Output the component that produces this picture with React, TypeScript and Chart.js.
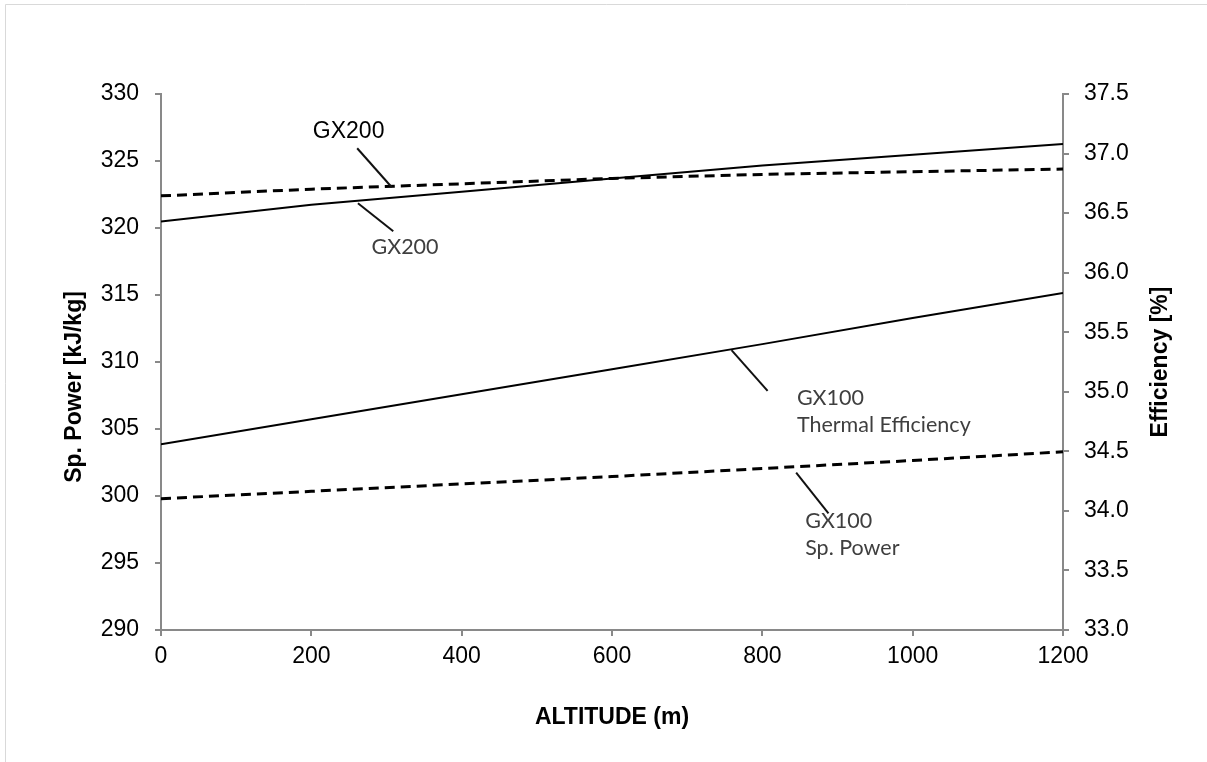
import React, { useEffect, useRef } from "react";
import { Chart, registerables } from "chart.js";

Chart.register(...registerables);

// ---- data ----
const altitudes = [0, 200, 400, 600, 800, 1000, 1200];
const gx200SpPower = [322.4, 322.9, 323.3, 323.7, 324.0, 324.2, 324.4];
const gx100SpPower = [299.8, 300.35, 300.9, 301.45, 302.05, 302.65, 303.3];
const gx200Efficiency = [36.43, 36.57, 36.68, 36.79, 36.9, 36.99, 37.08];
const gx100Efficiency = [34.56, 34.77, 34.98, 35.19, 35.4, 35.62, 35.83];

const xTitle = "ALTITUDE (m)";
const yLeftTitle = "Sp. Power [kJ/kg]";
const yRightTitle = "Efficiency [%]";

// annotations (data units: altitude, kJ/kg)
const noteLines = [["GX200"], ["GX200"], ["GX100", "Thermal Efficiency"], ["GX100", "Sp. Power"]];
const noteTextX = [202, 280, 846, 857];
const noteTextY = [327.2, 318.6, 307.3, 298.1];
const leaderFromX = [261, 262, 759, 845];
const leaderFromY = [325.95, 321.85, 310.88, 301.74];
const leaderToX = [307, 309, 807, 888];
const leaderToY = [323.04, 319.76, 307.85, 298.71];

const W = 1207;
const H = 762;
const AXIS_GRAY = "#898989";
const TICK_FONT = "'Liberation Sans', Arial, sans-serif";
const NOTE_FONT = "Lato, 'Open Sans', sans-serif";

const overlayPlugin = {
  id: "overlay",
  beforeDraw(chart: any) {
    const ctx = chart.ctx;
    ctx.save();
    ctx.fillStyle = "#ffffff";
    ctx.fillRect(0, 0, W, H);
    ctx.strokeStyle = "#d9d9d9";
    ctx.lineWidth = 1;
    ctx.beginPath();
    ctx.moveTo(5.5, H);
    ctx.lineTo(5.5, 4.5);
    ctx.lineTo(W, 4.5);
    ctx.stroke();
    ctx.restore();
  },
  afterDraw(chart: any) {
    const ctx = chart.ctx;
    const xs = chart.scales.x;
    const ys = chart.scales.y;
    const area = chart.chartArea;
    ctx.save();
    // leader lines
    ctx.strokeStyle = "#111111";
    ctx.lineWidth = 2;
    for (let i = 0; i < leaderFromX.length; i++) {
      ctx.beginPath();
      ctx.moveTo(xs.getPixelForValue(leaderFromX[i]), ys.getPixelForValue(leaderFromY[i]));
      ctx.lineTo(xs.getPixelForValue(leaderToX[i]), ys.getPixelForValue(leaderToY[i]));
      ctx.stroke();
    }
    // notes
    ctx.textAlign = "left";
    ctx.textBaseline = "middle";
    for (let i = 0; i < noteLines.length; i++) {
      const x = xs.getPixelForValue(noteTextX[i]);
      const y = ys.getPixelForValue(noteTextY[i]);
      if (i === 0) {
        ctx.font = `23px ${TICK_FONT}`;
        ctx.fillStyle = "#000000";
      } else {
        ctx.font = `21.5px ${NOTE_FONT}`;
        ctx.fillStyle = "#3f3f3f";
      }
      noteLines[i].forEach((t, k) => ctx.fillText(t, x, y + k * 27));
    }
    // axis titles
    ctx.fillStyle = "#000000";
    ctx.font = `bold 23px ${TICK_FONT}`;
    ctx.textAlign = "center";
    ctx.textBaseline = "middle";
    ctx.fillText(xTitle, (area.left + area.right) / 2, 718);
    ctx.save();
    ctx.translate(75, 387);
    ctx.rotate(-Math.PI / 2);
    ctx.fillText(yLeftTitle, 0, 0);
    ctx.restore();
    ctx.save();
    ctx.translate(1161, 362);
    ctx.rotate(-Math.PI / 2);
    ctx.fillText(yRightTitle, 0, 0);
    ctx.restore();
    ctx.restore();
  },
};

export default function App() {
  const ref = useRef<HTMLCanvasElement | null>(null);
  useEffect(() => {
    document.body.style.margin = "0";
    if (!ref.current) return;
    const tickFont = { family: TICK_FONT, size: 23 };
    const chart = new Chart(ref.current, {
      type: "line",
      data: {
        datasets: [
          {
            label: "GX200 Sp. Power",
            data: altitudes.map((a, i) => ({ x: a, y: gx200SpPower[i] })),
            yAxisID: "y",
            borderColor: "#000",
            borderWidth: 3,
            borderDash: [10, 6],
            pointRadius: 0,
          },
          {
            label: "GX100 Sp. Power",
            data: altitudes.map((a, i) => ({ x: a, y: gx100SpPower[i] })),
            yAxisID: "y",
            borderColor: "#000",
            borderWidth: 3,
            borderDash: [10, 6],
            pointRadius: 0,
          },
          {
            label: "GX200 Thermal Efficiency",
            data: altitudes.map((a, i) => ({ x: a, y: gx200Efficiency[i] })),
            yAxisID: "y1",
            borderColor: "#000",
            borderWidth: 2,
            pointRadius: 0,
          },
          {
            label: "GX100 Thermal Efficiency",
            data: altitudes.map((a, i) => ({ x: a, y: gx100Efficiency[i] })),
            yAxisID: "y1",
            borderColor: "#000",
            borderWidth: 2,
            pointRadius: 0,
          },
        ],
      },
      options: {
        responsive: false,
        maintainAspectRatio: false,
        animation: false,
        layout: { padding: { top: 94, left: 0, right: 0, bottom: 0 } },
        plugins: { legend: { display: false }, tooltip: { enabled: false } },
        scales: {
          x: {
            type: "linear",
            min: 0,
            max: 1200,
            ticks: {
              stepSize: 200,
              color: "#000",
              font: tickFont,
              padding: 7,
              maxRotation: 0,
              callback: (v: any) => String(v),
            },
            grid: { drawOnChartArea: false, drawTicks: true, tickLength: 6, color: AXIS_GRAY, lineWidth: 2 },
            border: { display: true, color: AXIS_GRAY, width: 2 },
            afterFit: (s: any) => { s.height = 132; },
          },
          y: {
            position: "left",
            min: 290,
            max: 330,
            ticks: { stepSize: 5, color: "#000", font: tickFont, padding: 16, callback: (v: any) => String(v) },
            grid: { drawOnChartArea: false, drawTicks: true, tickLength: 6, color: AXIS_GRAY, lineWidth: 2 },
            border: { display: true, color: AXIS_GRAY, width: 2 },
            afterFit: (s: any) => { s.width = 161; },
          },
          y1: {
            position: "right",
            min: 33,
            max: 37.5,
            ticks: {
              stepSize: 0.5,
              color: "#000",
              font: tickFont,
              padding: 15,
              callback: (v: any) => Number(v).toFixed(1),
            },
            grid: { drawOnChartArea: false, drawTicks: true, tickLength: 6, color: AXIS_GRAY, lineWidth: 2 },
            border: { display: true, color: AXIS_GRAY, width: 2 },
            afterFit: (s: any) => { s.width = 144; },
          },
        },
      } as any,
      plugins: [overlayPlugin],
    });
    return () => chart.destroy();
  }, []);
  return (
    <div style={{ width: W, height: H }}>
      <canvas ref={ref} width={W} height={H} style={{ display: "block" }} />
    </div>
  );
}
